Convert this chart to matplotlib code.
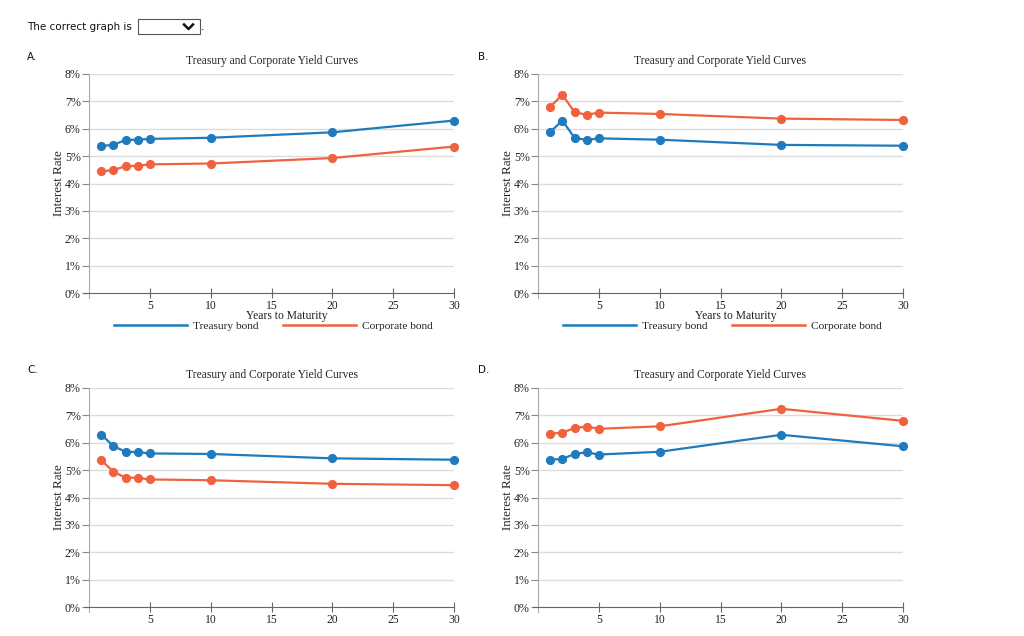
import matplotlib
matplotlib.use("Agg")
import matplotlib.pyplot as plt
from matplotlib.lines import Line2D
from matplotlib.patches import Rectangle

years = [1, 2, 3, 4, 5, 10, 20, 30]

treasury_a = [5.37, 5.41, 5.59, 5.60, 5.63, 5.67, 5.87, 6.30]
corporate_a = [4.44, 4.49, 4.63, 4.65, 4.70, 4.73, 4.93, 5.35]

treasury_b = [5.88, 6.30, 5.67, 5.59, 5.65, 5.60, 5.41, 5.38]
corporate_b = [6.80, 7.24, 6.61, 6.51, 6.59, 6.54, 6.37, 6.32]

treasury_c = [6.30, 5.88, 5.67, 5.66, 5.61, 5.59, 5.43, 5.38]
corporate_c = [5.37, 4.94, 4.73, 4.72, 4.66, 4.63, 4.50, 4.45]

treasury_d = [5.38, 5.41, 5.59, 5.65, 5.57, 5.67, 6.29, 5.87]
corporate_d = [6.33, 6.37, 6.54, 6.59, 6.51, 6.60, 7.24, 6.80]

panel_letters = ["A.", "B.", "C.", "D."]
title = "Treasury and Corporate Yield Curves"
x_label = "Years to Maturity"
y_label = "Interest Rate"
series_names = ["Treasury bond", "Corporate bond"]
x_ticks = [5, 10, 15, 20, 25, 30]
y_ticks = [0, 1, 2, 3, 4, 5, 6, 7, 8]
y_tick_labels = [f"{v}%" for v in y_ticks]

BLUE = "#1f7bbd"
ORANGE = "#f0623e"
SERIF = "Liberation Serif"

W, H = 1024, 636
fig = plt.figure(figsize=(W / 100, H / 100), dpi=100)
fig.patch.set_facecolor("white")


def fx(px):
    return px / W


def fy(py):
    return 1 - py / H


# header
fig.text(fx(27), fy(27), "The correct graph is", fontsize=7.5, family="DejaVu Sans",
         ha="left", va="center", color="#111")
fig.patches.append(Rectangle((fx(138), fy(34)), fx(62), 15 / H, transform=fig.transFigure,
                             fill=False, edgecolor="#555", lw=0.8))
fig.lines.append(Line2D([fx(184), fx(188.5), fx(193)], [fy(24.5), fy(29), fy(24.5)],
                        transform=fig.transFigure, color="#111", lw=1.8))
fig.text(fx(201), fy(27), ".", fontsize=7.5, family="DejaVu Sans", ha="left", va="center")

panels = [
    (treasury_a, corporate_a, 89, 293, 27, 57, True),
    (treasury_b, corporate_b, 538, 293, 478, 57, True),
    (treasury_c, corporate_c, 89, 607, 27, 370, False),
    (treasury_d, corporate_d, 538, 607, 478, 370, False),
]

AW, AH = 365, 219

for i, (tre, cor, left, bottom, lx, ly, full) in enumerate(panels):
    fig.text(fx(lx), fy(ly), panel_letters[i], fontsize=7.5, family="DejaVu Sans",
             ha="left", va="center", color="#111")
    ax = fig.add_axes([fx(left), fy(bottom), AW / W, AH / H])
    ax.set_xlim(0, 30)
    ax.set_ylim(0, 8)
    ax.set_facecolor("none")
    for y in y_ticks[1:]:
        ax.axhline(y, color="#dcdcdc", lw=1, zorder=0)
    l1, = ax.plot(years, tre, color=BLUE, lw=1.6, marker="o", markersize=5.6,
                  clip_on=False, zorder=3, label=series_names[0])
    l2, = ax.plot(years, cor, color=ORANGE, lw=1.6, marker="o", markersize=5.6,
                  clip_on=False, zorder=3, label=series_names[1])
    for s in ["top", "right"]:
        ax.spines[s].set_visible(False)
    ax.spines["left"].set_color("#aaaaaa")
    ax.spines["left"].set_bounds(-0.2, 8)
    ax.spines["bottom"].set_color("#666666")
    ax.spines["bottom"].set_bounds(-0.4, 30)
    ax.set_xticks(x_ticks)
    ax.set_xticklabels([str(t) for t in x_ticks], family=SERIF, fontsize=8.4, color="#222")
    ax.set_yticks(y_ticks)
    ax.set_yticklabels(y_tick_labels, family=SERIF, fontsize=8.6, color="#222")
    ax.tick_params(axis="x", direction="inout", length=7, width=0.8, color="#666", pad=1.5)
    ax.tick_params(axis="y", direction="out", length=5, width=0.8, color="#888", pad=1)
    ax.set_title(title, family=SERIF, fontsize=8.3, color="#222", pad=7)
    ax.set_ylabel(y_label, family=SERIF, fontsize=9.4, color="#222")
    ax.yaxis.set_label_coords(-0.066, 0.5)
    if full:
        ax.set_xlabel(x_label, family=SERIF, fontsize=8.4, color="#222")
        ax.xaxis.set_label_coords(0.541, -0.078)
        leg = ax.legend(handles=[l1, l2], loc="center", bbox_to_anchor=(0.505, -0.151),
                        ncol=2, frameon=False, handlelength=6.4, handletextpad=0.53,
                        columnspacing=2.2, prop={"family": SERIF, "size": 8.2},
                        borderaxespad=0)
        for h in leg.legend_handles:
            h.set_marker("")
            h.set_linewidth(1.8)
        for t in leg.get_texts():
            t.set_color("#222")

fig.savefig("out.png", dpi=100, facecolor="white")
